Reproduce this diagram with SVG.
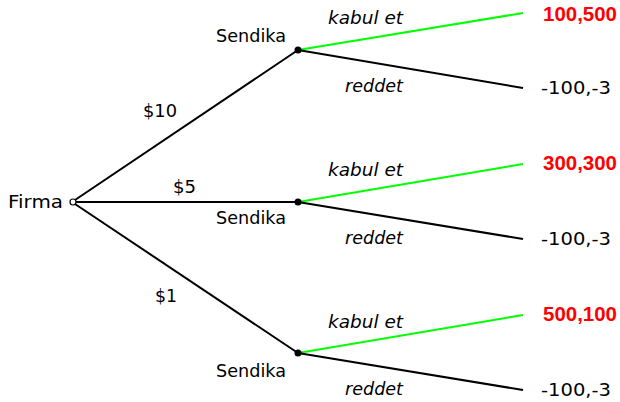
<svg xmlns="http://www.w3.org/2000/svg" width="620" height="402" viewBox="0 0 620 402">
<style>
text{font-family:"DejaVu Sans","Liberation Sans",sans-serif;font-size:18px;fill:#000}
.it{font-style:italic}
.pay{font-family:"Liberation Sans","DejaVu Sans",sans-serif;font-weight:bold;fill:#ff0000;font-size:20px}
.e{stroke:#000;stroke-width:2;fill:none}
.g{stroke:#00ff00;stroke-width:2;fill:none}
</style>
<rect width="620" height="402" fill="#fff"/>
<g id="connectors">
<line class="e" x1="75" y1="200" x2="298" y2="50"/>
<line class="e" x1="76" y1="202" x2="298" y2="202"/>
<line class="e" x1="75" y1="204" x2="298" y2="353"/>
<line class="g" x1="298" y1="50" x2="523" y2="13"/>
<line class="e" x1="298" y1="50" x2="523" y2="88"/>
<line class="g" x1="298" y1="202" x2="523" y2="164"/>
<line class="e" x1="298" y1="202" x2="523" y2="239"/>
<line class="g" x1="298" y1="353" x2="523" y2="315"/>
<line class="e" x1="298" y1="353" x2="523" y2="390"/>
<text x="143" y="117" textLength="34" lengthAdjust="spacingAndGlyphs">$10</text>
<text x="173" y="193" textLength="23" lengthAdjust="spacingAndGlyphs">$5</text>
<text x="155" y="302" textLength="22" lengthAdjust="spacingAndGlyphs">$1</text>
<text class="it" x="328" y="24" textLength="75" lengthAdjust="spacingAndGlyphs">kabul et</text>
<text class="it" x="345" y="92" textLength="58" lengthAdjust="spacingAndGlyphs">reddet</text>
<text class="it" x="328" y="176" textLength="75" lengthAdjust="spacingAndGlyphs">kabul et</text>
<text class="it" x="345" y="244" textLength="58" lengthAdjust="spacingAndGlyphs">reddet</text>
<text class="it" x="328" y="328" textLength="75" lengthAdjust="spacingAndGlyphs">kabul et</text>
<text class="it" x="345" y="395" textLength="58" lengthAdjust="spacingAndGlyphs">reddet</text>
</g>
<g id="root">
<circle cx="73" cy="202" r="3" fill="#fff" stroke="#000" stroke-width="1.2"/>
<text x="8" y="208" textLength="55" lengthAdjust="spacingAndGlyphs">Firma</text>
</g>
<g id="n1">
<circle cx="298" cy="50" r="3.5" fill="#000"/>
<text x="216" y="42" textLength="70" lengthAdjust="spacingAndGlyphs">Sendika</text>
</g>
<g id="n2">
<circle cx="298" cy="202" r="3.5" fill="#000"/>
<text x="216" y="224" textLength="70" lengthAdjust="spacingAndGlyphs">Sendika</text>
</g>
<g id="n3">
<circle cx="298" cy="353" r="3.5" fill="#000"/>
<text x="216" y="377" textLength="70" lengthAdjust="spacingAndGlyphs">Sendika</text>
</g>
<g id="leaf1"><text class="pay" x="543" y="21" textLength="74" lengthAdjust="spacingAndGlyphs">100,500</text></g>
<g id="leaf2"><text x="541" y="94" textLength="70" lengthAdjust="spacingAndGlyphs">-100,-3</text></g>
<g id="leaf3"><text class="pay" x="543" y="170" textLength="74" lengthAdjust="spacingAndGlyphs">300,300</text></g>
<g id="leaf4"><text x="541" y="245" textLength="70" lengthAdjust="spacingAndGlyphs">-100,-3</text></g>
<g id="leaf5"><text class="pay" x="543" y="321" textLength="74" lengthAdjust="spacingAndGlyphs">500,100</text></g>
<g id="leaf6"><text x="541" y="396" textLength="70" lengthAdjust="spacingAndGlyphs">-100,-3</text></g>
</svg>
